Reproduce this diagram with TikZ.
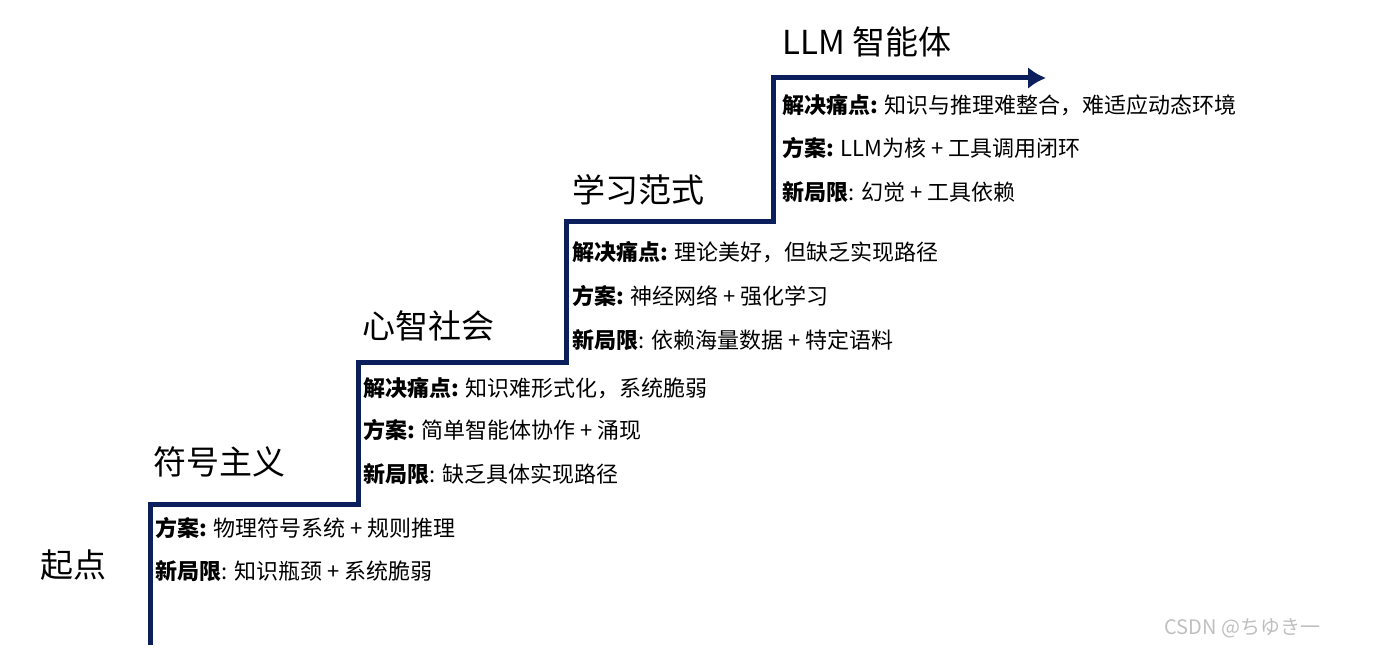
\documentclass[tikz,border=0pt]{standalone}
\usepackage{fontspec}
\setmainfont{Noto Sans CJK SC}
\newfontfamily\cjk{Noto Sans CJK SC}
\definecolor{navy}{HTML}{0B1F5C}
\begin{document}
\begin{tikzpicture}[x=0.5pt,y=-0.5pt,
  body/.style={anchor=west,font=\fontsize{11}{13}\selectfont,inner sep=0pt},
  head/.style={anchor=west,font=\fontsize{16.5}{19}\selectfont,inner sep=0pt},
  stair/.style={draw=navy,line width=2.5pt,-{Latex[length=9pt,width=11pt]}}]
\usetikzlibrary{arrows.meta}
\useasboundingbox (0,0) rectangle (1377,651);
\coordinate (s0) at (150,645);
\coordinate (a) at (150,505);
\coordinate (b) at (358,505);
\coordinate (c) at (358,363);
\coordinate (d) at (566,363);
\coordinate (e) at (566,222);
\coordinate (f) at (773,222);
\coordinate (g) at (773,78);
\coordinate (h) at (1046,78);
\draw[stair] (s0) -- (a) -- (b) -- (c) -- (d) -- (e) -- (f) -- (g) -- (h);
\node[head] (start) at (40,565) {起点};
\node[head] (h1) at (153,462) {符号主义};
\node[head] (h2) at (362,326) {心智社会};
\node[head] (h3) at (572,190) {学习范式};
\node[head] (h4) at (782,42) {LLM 智能体};
\node[body] (t11) at (155,528) {\textbf{方案:} 物理符号系统 + 规则推理};
\node[body] (t12) at (155,571) {\textbf{新局限}: 知识瓶颈 + 系统脆弱};
\node[body] (t21) at (363,388) {\textbf{解决痛点:} 知识难形式化，系统脆弱};
\node[body] (t22) at (363,430) {\textbf{方案:} 简单智能体协作 + 涌现};
\node[body] (t23) at (363,474) {\textbf{新局限}: 缺乏具体实现路径};
\node[body] (t31) at (572,252) {\textbf{解决痛点:} 理论美好，但缺乏实现路径};
\node[body] (t32) at (572,296) {\textbf{方案:} 神经网络 + 强化学习};
\node[body] (t33) at (572,340) {\textbf{新局限}: 依赖海量数据 + 特定语料};
\node[body] (t41) at (782,105) {\textbf{解决痛点:} 知识与推理难整合，难适应动态环境};
\node[body] (t42) at (782,148) {\textbf{方案:} LLM为核 + 工具调用闭环};
\node[body] (t43) at (782,192) {\textbf{新局限}: 幻觉 + 工具依赖};
\node[body,text=black!25,font=\fontsize{10}{12}\selectfont] (wm) at (1164,628) {CSDN @ちゆき一};
\end{tikzpicture}
\end{document}
